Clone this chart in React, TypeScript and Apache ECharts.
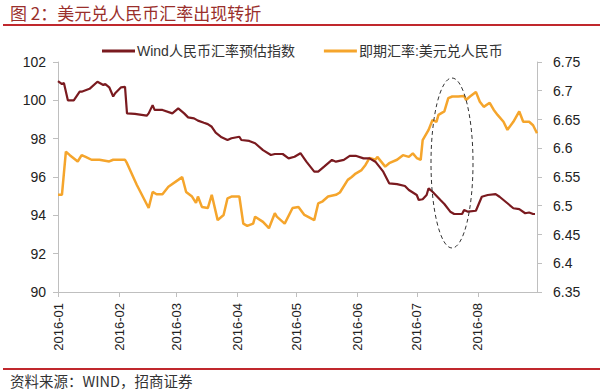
import React, { useEffect, useRef } from "react";
import * as echarts from "echarts";

const titleText = "图 2：美元兑人民币汇率出现转折";
const sourceText = "资料来源：WIND，招商证券";
const windName = "Wind人民币汇率预估指数";
const spotName = "即期汇率:美元兑人民币";

const windDates = [
  "2016-01-01","2016-01-03","2016-01-04","2016-01-06","2016-01-09","2016-01-12","2016-01-13","2016-01-17",
  "2016-01-21","2016-01-24","2016-01-25","2016-01-27","2016-01-29","2016-01-30","2016-02-02","2016-02-04",
  "2016-02-05","2016-02-09","2016-02-15","2016-02-16","2016-02-18","2016-02-19","2016-02-23","2016-02-28",
  "2016-03-02","2016-03-05","2016-03-07","2016-03-10","2016-03-12","2016-03-15","2016-03-17","2016-03-19",
  "2016-03-21","2016-03-24","2016-03-27","2016-03-29","2016-04-02","2016-04-03","2016-04-07","2016-04-10",
  "2016-04-14","2016-04-18","2016-04-20","2016-04-24","2016-04-27","2016-04-30","2016-05-03","2016-05-06",
  "2016-05-10","2016-05-12","2016-05-15","2016-05-19","2016-05-21","2016-05-25","2016-05-28","2016-05-31",
  "2016-06-04","2016-06-07","2016-06-10","2016-06-14","2016-06-17","2016-06-21","2016-06-25","2016-06-27",
  "2016-07-01","2016-07-02","2016-07-04","2016-07-06","2016-07-07","2016-07-09","2016-07-13","2016-07-15",
  "2016-07-18","2016-07-20","2016-07-24","2016-07-25","2016-07-27","2016-07-31","2016-08-03","2016-08-06",
  "2016-08-10","2016-08-12","2016-08-16","2016-08-19","2016-08-22","2016-08-25","2016-08-27","2016-08-29",
  "2016-08-30"
];
const windValues = [
  101.0,100.85,100.9,100.0,100.0,100.45,100.45,100.6,
  100.97,100.8,100.85,100.68,100.2,100.37,100.68,100.7,
  99.32,99.29,99.2,99.32,99.75,99.5,99.5,99.32,
  99.58,99.32,99.11,99.06,98.94,98.83,98.76,98.62,
  98.31,98.07,97.93,98.02,98.1,97.93,97.88,97.76,
  97.4,97.15,97.2,97.2,96.97,97.06,97.24,96.8,
  96.28,96.28,96.54,96.89,96.8,96.89,97.1,97.11,
  96.97,96.97,96.8,96.28,95.67,95.63,95.53,95.32,
  95.06,94.8,94.84,95.06,95.41,95.23,94.8,94.59,
  94.19,94.07,94.07,94.28,94.19,94.24,94.97,95.06,
  95.11,94.97,94.63,94.37,94.32,94.11,94.15,94.07,
  94.07
];

const spotDates = [
  "2016-01-01","2016-01-03","2016-01-05","2016-01-07","2016-01-11","2016-01-13","2016-01-15","2016-01-18",
  "2016-01-22","2016-01-27","2016-01-29","2016-02-04","2016-02-05","2016-02-10","2016-02-16","2016-02-18",
  "2016-02-20","2016-02-23","2016-02-26","2016-03-02","2016-03-04","2016-03-06","2016-03-09","2016-03-11",
  "2016-03-12","2016-03-14","2016-03-17","2016-03-19","2016-03-22","2016-03-25","2016-03-27","2016-03-29",
  "2016-04-02","2016-04-04","2016-04-06","2016-04-09","2016-04-10","2016-04-14","2016-04-17","2016-04-20",
  "2016-04-21","2016-04-25","2016-04-29","2016-05-02","2016-05-05","2016-05-10","2016-05-12","2016-05-14",
  "2016-05-17","2016-05-21","2016-05-23","2016-05-27","2016-05-29","2016-05-31","2016-06-03","2016-06-05",
  "2016-06-07","2016-06-10","2016-06-11","2016-06-15","2016-06-17","2016-06-21","2016-06-24","2016-06-27",
  "2016-06-29","2016-07-01","2016-07-03","2016-07-04","2016-07-07","2016-07-09","2016-07-11","2016-07-12",
  "2016-07-15","2016-07-17","2016-07-19","2016-07-22","2016-07-25","2016-07-26","2016-07-28","2016-07-31",
  "2016-08-02","2016-08-04","2016-08-07","2016-08-09","2016-08-11","2016-08-14","2016-08-16","2016-08-19",
  "2016-08-22","2016-08-24","2016-08-27","2016-08-29","2016-08-31"
];
const spotValues = [
  6.519,6.519,6.594,6.588,6.577,6.588,6.585,6.58,
  6.58,6.577,6.58,6.58,6.574,6.536,6.496,6.524,
  6.52,6.52,6.533,6.545,6.55,6.524,6.516,6.505,
  6.516,6.498,6.496,6.519,6.475,6.484,6.513,6.516,
  6.516,6.469,6.465,6.469,6.481,6.472,6.461,6.487,
  6.481,6.469,6.496,6.498,6.484,6.475,6.504,6.507,
  6.516,6.519,6.523,6.545,6.55,6.556,6.562,6.571,
  6.583,6.58,6.585,6.568,6.574,6.58,6.588,6.585,
  6.591,6.583,6.58,6.614,6.632,6.649,6.646,6.658,
  6.664,6.687,6.69,6.69,6.691,6.684,6.69,6.698,
  6.681,6.672,6.679,6.667,6.658,6.646,6.632,6.646,
  6.664,6.646,6.646,6.64,6.626
];

const FONT = '"Liberation Sans", Arial, "Noto Sans CJK SC", sans-serif';
const CJK = '"Noto Sans CJK SC", sans-serif';

export default function App() {
  const ref = useRef<HTMLDivElement>(null);
  useEffect(() => {
    if (!ref.current) return;
    const chart = echarts.init(ref.current, null, { renderer: "svg" });
    const axisLineStyle = { color: "#bfbfbf", width: 1 };
    chart.setOption({
      animation: false,
      backgroundColor: "#ffffff",
      textStyle: { fontFamily: FONT },
      grid: { left: 58, right: 63, top: 62, bottom: 100 },
      legend: {
        left: 97,
        top: 39,
        icon: "rect",
        itemWidth: 33,
        itemHeight: 3,
        itemGap: 29,
        data: [windName, spotName],
        textStyle: { fontSize: 14, color: "#333", fontFamily: FONT, padding: [0, 0, 0, -3] },
      },
      xAxis: {
        type: "time",
        min: "2016-01-01",
        max: "2016-08-31",
        minInterval: 28 * 86400000,
        maxInterval: 31 * 86400000,
        axisLine: { show: true, lineStyle: axisLineStyle },
        axisTick: { show: true, length: 5, lineStyle: axisLineStyle },
        splitLine: { show: false },
        axisLabel: {
          rotate: 90,
          fontSize: 13,
          color: "#222",
          margin: 11,
          fontFamily: FONT,
          formatter: (v: number) => {
            const d = new Date(v);
            const m = d.getMonth() + 1;
            return `${d.getFullYear()}-${m < 10 ? "0" + m : m}`;
          },
        },
      },
      yAxis: [
        {
          type: "value",
          min: 90,
          max: 102,
          interval: 2,
          position: "left",
          axisLine: { show: true, lineStyle: axisLineStyle },
          axisTick: { show: true, length: 5, lineStyle: axisLineStyle },
          splitLine: { show: false },
          axisLabel: { fontSize: 14, color: "#222", margin: 12, fontFamily: FONT },
        },
        {
          type: "value",
          min: 6.35,
          max: 6.75,
          interval: 0.05,
          position: "right",
          axisLine: { show: true, lineStyle: axisLineStyle },
          axisTick: { show: true, length: 5, lineStyle: axisLineStyle },
          splitLine: { show: false },
          axisLabel: {
            fontSize: 14,
            color: "#222",
            margin: 16,
            fontFamily: FONT,
            formatter: (v: number) => String(+v.toFixed(2)),
          },
        },
      ],
      series: [
        {
          name: spotName,
          type: "line",
          yAxisIndex: 1,
          showSymbol: false,
          data: spotDates.map((d, i) => [d, spotValues[i]]),
          lineStyle: { color: "#f5a52c", width: 2.5 },
          itemStyle: { color: "#f5a52c" },
          z: 2,
        },
        {
          name: windName,
          type: "line",
          yAxisIndex: 0,
          showSymbol: false,
          data: windDates.map((d, i) => [d, windValues[i]]),
          lineStyle: { color: "#7a1a1f", width: 2.2 },
          itemStyle: { color: "#7a1a1f" },
          z: 3,
        },
      ],
      graphic: [
        {
          type: "text",
          left: 10,
          top: 4,
          style: { text: titleText, font: `17px ${CJK}`, fill: "#9a2f2c" },
        },
        {
          type: "line",
          shape: { x1: 3, y1: 25, x2: 600, y2: 25 },
          style: { stroke: "#c0282d", lineWidth: 2 },
        },
        {
          type: "line",
          shape: { x1: 3, y1: 369, x2: 600, y2: 369 },
          style: { stroke: "#c0282d", lineWidth: 2 },
        },
        {
          type: "text",
          left: 10,
          top: 373,
          style: { text: sourceText, font: `14.5px ${CJK}`, fill: "#333" },
        },
        {
          type: "ellipse",
          shape: { cx: 452, cy: 163, rx: 21, ry: 85 },
          style: { fill: "none", stroke: "#333", lineWidth: 1, lineDash: [4, 3] },
          z: 10,
        },
      ],
    });
    return () => chart.dispose();
  }, []);
  return (
    <div
      ref={ref}
      style={{ position: "fixed", left: 0, top: 0, width: 600, height: 392, background: "#fff" }}
    />
  );
}
